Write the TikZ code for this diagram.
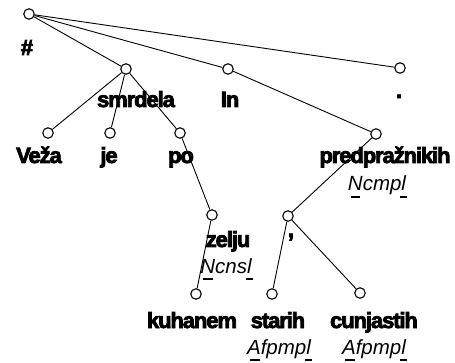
\documentclass[tikz,border=0pt]{standalone}
\usepackage{fontspec}
\setmainfont{Liberation Sans}
\newfontfamily\wordfont{Liberation Sans}[UprightFont={* Bold}, FakeBold=3.5, LetterSpace=-5]
\newfontfamily\tagfont{Liberation Sans}[UprightFont={* Italic}]
% tag text with short bars under its first and last letter
\newcommand\tagtxt[1]{\rlap{\kern3pt\rule[-7pt]{9.5pt}{1.8pt}}#1\rlap{\kern-6pt\rule[-7pt]{7pt}{1.8pt}}}
\tikzset{
  tnode/.style={circle, draw, line width=1.1pt, fill=white, inner sep=0pt, minimum size=10.5pt},
  edge/.style={line width=0.9pt},
  word/.style={anchor=base, inner sep=0pt, font=\wordfont\fontsize{22}{26}\selectfont},
  tag/.style={anchor=base, inner sep=0pt, font=\tagfont\fontsize{20.5}{24}\selectfont}
}
\begin{document}
\begin{tikzpicture}[x=1pt, y=-1pt]
\useasboundingbox (0,0) rectangle (455,363);

% tree nodes
\node[tnode] (root) at (29,14) {};
\node[tnode] (smrdela) at (126,69) {};
\node[tnode] (in) at (228,69) {};
\node[tnode] (dot) at (400,68) {};
\node[tnode] (veza) at (48,133) {};
\node[tnode] (je) at (110,133) {};
\node[tnode] (po) at (180,133) {};
\node[tnode] (predp) at (376,134) {};
\node[tnode] (zelju) at (212,215) {};
\node[tnode] (comma) at (288,216) {};
\node[tnode] (kuhanem) at (196,294) {};
\node[tnode] (starih) at (272,294) {};
\node[tnode] (cunj) at (360,293) {};

% dependency edges
\draw[edge] (root) -- (smrdela);
\draw[edge] (root) -- (in);
\draw[edge] (root) -- (dot);
\draw[edge] (smrdela) -- (veza);
\draw[edge] (smrdela) -- (je);
\draw[edge] (smrdela) -- (po);
\draw[edge] (po) -- (zelju);
\draw[edge] (zelju) -- (kuhanem);
\draw[edge] (in) -- (predp);
\draw[edge] (predp) -- (comma);
\draw[edge] (comma) -- (starih);
\draw[edge] (comma) -- (cunj);

% word labels
\node[word] (l-root) at (27,55) {\#};
\node[word] (l-smrdela) at (136,107) {smrdela};
\node[word] (l-in) at (230,107) {In};
\node[word] (l-dot) at (399,98) {.};
\node[word] (l-veza) at (39,163) {Veža};
\node[word] (l-je) at (109,163) {je};
\node[word] (l-po) at (181,163) {po};
\node[word] (l-predp) at (385,163) {predpražnikih};
\node[word] (l-zelju) at (228,247) {zelju};
\node[word] (l-comma) at (291,237) {,};
\node[word] (l-kuhanem) at (192,328) {kuhanem};
\node[word] (l-starih) at (278,328) {starih};
\node[word] (l-cunj) at (374,328) {cunjastih};

% morphological tags
\node[tag] (t-predp) at (377,191) {\tagtxt{Ncmpl}};
\node[tag] (t-zelju) at (226,273) {\tagtxt{Ncnsl}};
\node[tag] (t-starih) at (279,354) {\tagtxt{Afpmpl}};
\node[tag] (t-cunj) at (374,354) {\tagtxt{Afpmpl}};
\end{tikzpicture}
\end{document}
